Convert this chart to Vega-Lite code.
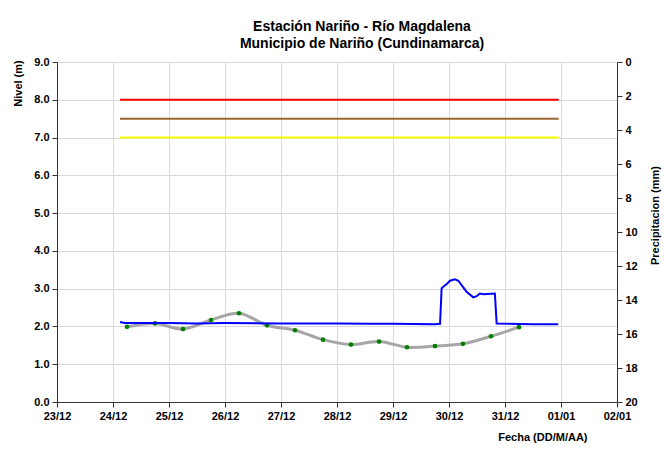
{
  "$schema": "https://vega.github.io/schema/vega-lite/v6.json",
  "width": 560,
  "height": 340,
  "autosize": "none",
  "padding": {"left": 57, "top": 62, "right": 47, "bottom": 52},
  "background": "white",
  "title": {
    "text": ["Estación Nariño  - Río Magdalena", "Municipio de Nariño (Cundinamarca)"],
    "font": "Liberation Sans", "fontSize": 14, "fontWeight": "bold", "color": "black",
    "anchor": "middle", "dx": 25, "offset": 5, "lineHeight": 17
  },
  "config": {
    "view": {"stroke": null},
    "axis": {
      "labelFont": "Liberation Sans", "labelFontSize": 11, "labelFontWeight": "bold", "labelColor": "black",
      "titleFont": "Liberation Sans", "titleFontSize": 11, "titleFontWeight": "bold", "titleColor": "black",
      "gridColor": "#d9d9d9", "domainColor": "#333333", "tickColor": "#333333", "tickSize": 5
    }
  },
  "datasets": {
    "umbrales": [
      {"umbral": "Rojo", "nivel": 8.0, "inicio": "2023-12-24T03:00:00", "fin": "2023-12-31T23:00:00"},
      {"umbral": "Naranja", "nivel": 7.5, "inicio": "2023-12-24T03:00:00", "fin": "2023-12-31T23:00:00"},
      {"umbral": "Amarillo", "nivel": 7.0, "inicio": "2023-12-24T03:00:00", "fin": "2023-12-31T23:00:00"}
    ],
    "nivel": [
      {"fecha": "2023-12-24T03:00:00", "nivel": 2.12},
      {"fecha": "2023-12-24T05:00:00", "nivel": 2.09},
      {"fecha": "2023-12-25T00:00:00", "nivel": 2.09},
      {"fecha": "2023-12-25T12:00:00", "nivel": 2.08},
      {"fecha": "2023-12-26T00:00:00", "nivel": 2.09},
      {"fecha": "2023-12-27T00:00:00", "nivel": 2.08},
      {"fecha": "2023-12-28T00:00:00", "nivel": 2.08},
      {"fecha": "2023-12-28T15:00:00", "nivel": 2.07},
      {"fecha": "2023-12-29T00:00:00", "nivel": 2.07},
      {"fecha": "2023-12-29T18:00:00", "nivel": 2.06},
      {"fecha": "2023-12-29T20:10:00", "nivel": 2.07},
      {"fecha": "2023-12-29T20:50:00", "nivel": 3.01},
      {"fecha": "2023-12-29T23:00:00", "nivel": 3.12},
      {"fecha": "2023-12-30T00:25:00", "nivel": 3.21},
      {"fecha": "2023-12-30T02:30:00", "nivel": 3.25},
      {"fecha": "2023-12-30T04:00:00", "nivel": 3.21},
      {"fecha": "2023-12-30T07:30:00", "nivel": 2.92},
      {"fecha": "2023-12-30T10:25:00", "nivel": 2.77},
      {"fecha": "2023-12-30T11:50:00", "nivel": 2.80},
      {"fecha": "2023-12-30T13:15:00", "nivel": 2.87},
      {"fecha": "2023-12-30T14:45:00", "nivel": 2.85},
      {"fecha": "2023-12-30T19:40:00", "nivel": 2.87},
      {"fecha": "2023-12-30T20:25:00", "nivel": 2.08},
      {"fecha": "2023-12-31T12:00:00", "nivel": 2.06},
      {"fecha": "2023-12-31T22:50:00", "nivel": 2.06}
    ],
    "suavizado": [
      {"fecha": "2023-12-24T06:00:00", "nivel": 1.99},
      {"fecha": "2023-12-24T18:00:00", "nivel": 2.08},
      {"fecha": "2023-12-25T06:00:00", "nivel": 1.93},
      {"fecha": "2023-12-25T18:00:00", "nivel": 2.17},
      {"fecha": "2023-12-26T06:00:00", "nivel": 2.35},
      {"fecha": "2023-12-26T18:00:00", "nivel": 2.03},
      {"fecha": "2023-12-27T06:00:00", "nivel": 1.90},
      {"fecha": "2023-12-27T18:00:00", "nivel": 1.65},
      {"fecha": "2023-12-28T06:00:00", "nivel": 1.52},
      {"fecha": "2023-12-28T18:00:00", "nivel": 1.60},
      {"fecha": "2023-12-29T06:00:00", "nivel": 1.45},
      {"fecha": "2023-12-29T18:00:00", "nivel": 1.48},
      {"fecha": "2023-12-30T06:00:00", "nivel": 1.54},
      {"fecha": "2023-12-30T18:00:00", "nivel": 1.74},
      {"fecha": "2023-12-31T06:00:00", "nivel": 1.98}
    ],
    "precipitacion": [
      {"precip": 0},
      {"precip": 20}
    ]
  },
  "layer": [
    {
      "encoding": {
        "x": {
          "field": "fecha", "type": "temporal",
          "scale": {"domain": [{"year": 2023, "month": 12, "date": 23}, {"year": 2024, "month": 1, "date": 2}], "nice": false},
          "axis": {
            "title": "Fecha (DD/M/AA)", "format": "%d/%m", "tickCount": {"interval": "day", "step": 1},
            "grid": true, "labelFlush": false, "labelOverlap": false, "labelPadding": 3,
            "titleX": 530, "titleY": 35, "titleAlign": "right", "titleBaseline": "middle", "titleAnchor": null
          }
        },
        "y": {
          "field": "nivel", "type": "quantitative",
          "scale": {"domain": [0, 9], "nice": false},
          "axis": {
            "title": "Nivel (m)", "format": ".1f", "values": [0, 1, 2, 3, 4, 5, 6, 7, 8, 9],
            "grid": true, "labelPadding": 3,
            "titleX": -39, "titleY": 21, "titleAlign": "center", "titleBaseline": "middle", "titleAngle": 270
          }
        }
      },
      "layer": [
        {
          "data": {"name": "umbrales"},
          "mark": {"type": "rule", "strokeWidth": 2},
          "encoding": {
            "x": {"field": "inicio", "type": "temporal"},
            "x2": {"field": "fin"},
            "color": {
              "field": "umbral", "type": "nominal",
              "scale": {"domain": ["Rojo", "Naranja", "Amarillo"], "range": ["#ff0000", "#996633", "#ffff00"]},
              "legend": null
            }
          }
        },
        {
          "data": {"name": "suavizado"},
          "mark": {"type": "line", "color": "#a6a6a6", "strokeWidth": 3, "interpolate": "catmull-rom"}
        },
        {
          "data": {"name": "suavizado"},
          "mark": {"type": "point", "filled": true, "color": "#008000", "size": 22, "opacity": 1}
        },
        {
          "data": {"name": "nivel"},
          "mark": {"type": "line", "color": "#0000ff", "strokeWidth": 2}
        }
      ]
    },
    {
      "data": {"name": "precipitacion"},
      "mark": {"type": "point", "opacity": 0},
      "encoding": {
        "y": {
          "field": "precip", "type": "quantitative",
          "scale": {"domain": [0, 20], "reverse": true, "nice": false},
          "axis": {
            "title": "Precipitacion (mm)", "orient": "right", "values": [0, 2, 4, 6, 8, 10, 12, 14, 16, 18, 20],
            "grid": false, "labelPadding": 3,
            "titleX": 38, "titleY": 153, "titleAlign": "center", "titleBaseline": "middle", "titleAngle": 270
          }
        }
      }
    }
  ],
  "resolve": {"scale": {"y": "independent"}}
}
